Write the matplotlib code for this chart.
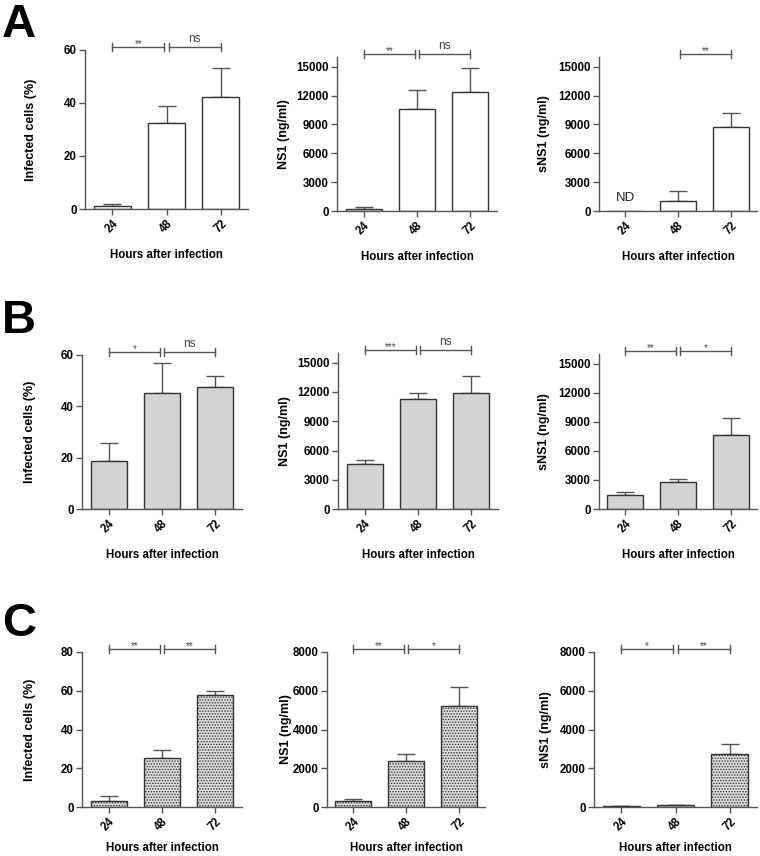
import numpy as np
import matplotlib
matplotlib.use('Agg')
import matplotlib.pyplot as plt

plt.rcParams['font.family'] = ['Liberation Sans', 'DejaVu Sans']
plt.rcParams['font.weight'] = 'bold'
plt.rcParams['hatch.linewidth'] = 0.7

# 数据
hours = ['24', '48', '72']

a_cells = [1.3, 32.5, 42.2]
a_cells_err = [0.7, 6.2, 10.9]
a_ns1 = [240, 10550, 12400]
a_ns1_err = [140, 1970, 2490]
a_sns1 = [0, 1030, 8700]
a_sns1_err = [0, 1030, 1480]

b_cells = [18.7, 45.2, 47.5]
b_cells_err = [7.0, 11.7, 4.4]
b_ns1 = [4650, 11280, 11930]
b_ns1_err = [340, 580, 1700]
b_sns1 = [1400, 2770, 7600]
b_sns1_err = [350, 310, 1820]

c_cells = [3.3, 25.3, 57.8]
c_cells_err = [2.2, 4.1, 2.1]
c_ns1 = [290, 2370, 5200]
c_ns1_err = [120, 370, 990]
c_sns1 = [35, 90, 2720]
c_sns1_err = [35, 30, 550]

a_sig = [['**', 'ns'], ['**', 'ns'], [None, '**']]
b_sig = [['*', 'ns'], ['***', 'ns'], ['**', '*']]
c_sig = [['**', '**'], ['**', '*'], ['*', '**']]

W, H = 760, 856
fig = plt.figure(figsize=(W / 100, H / 100), dpi=100)

DARK = '#333333'
GRAY = '#555555'


def add_ax(left, right, top, bottom):
    return fig.add_axes([left / W, 1 - bottom / H, (right - left) / W, (bottom - top) / H])


def panel(ax, vals, errs, sig, ylabel, ylim, yticks, fill, hatch=None,
          ylab_gap=48, xlab_gap=40, nd=False):
    x = np.arange(len(hours))
    ax.bar(x, vals, width=0.68, color=fill, edgecolor=DARK, linewidth=1.0,
           hatch=hatch, zorder=2)
    errs = np.array(errs, dtype=float)
    m = errs > 0
    ax.errorbar(x[m], np.array(vals)[m], yerr=[np.zeros(m.sum()), errs[m]],
                fmt='none', ecolor=GRAY, elinewidth=1.0, capsize=6.5,
                capthick=1.0, zorder=1)
    ax.set_xlim(-0.5, 2.5)
    ax.set_ylim(*ylim)
    ax.set_yticks(yticks)
    ax.set_xticks(x)
    ax.set_xticklabels(hours, rotation=45, ha='right', rotation_mode='anchor')
    ax.tick_params(labelsize=8.3, length=4, width=1.0, color=GRAY, pad=2)
    for s in ['top', 'right']:
        ax.spines[s].set_visible(False)
    for s in ['left', 'bottom']:
        ax.spines[s].set_color(GRAY)
        ax.spines[s].set_linewidth(1.0)
    ax.set_ylabel(ylabel, fontsize=9, fontweight='bold')
    ax.set_xlabel('Hours after infection', fontsize=8.3, fontweight='bold')
    bb = ax.get_window_extent()
    ax.yaxis.set_label_coords(-ylab_gap / bb.width, 0.5)
    ax.xaxis.set_label_coords(0.5, -xlab_gap / bb.height)

    # 显著性标记
    ytop = ylim[1]
    yb = ytop + (ylim[1] - ylim[0]) * 3 / bb.height
    tick = (ylim[1] - ylim[0]) * 4 / bb.height
    spans = [(0, 0.96), (1.04, 2)]
    for (x0, x1), s in zip(spans, sig):
        if s is None:
            continue
        ax.plot([x0, x1], [yb, yb], color=GRAY, lw=1.0, clip_on=False)
        for xx in (x0, x1):
            ax.plot([xx, xx], [yb - tick, yb + tick], color=GRAY, lw=1.0,
                    clip_on=False)
        if s == 'ns':
            ax.text((x0 + x1) / 2, yb + tick * 0.6, s, ha='center', va='bottom',
                    fontsize=8.5, fontweight='normal', color='#444444')
        else:
            ax.text((x0 + x1) / 2, yb - tick * 0.6, s, ha='center', va='bottom',
                    fontsize=7, fontweight='normal', color='#444444')
    if nd:
        ax.text(0, (ylim[1] - ylim[0]) * 0.085, 'ND', ha='center', va='center',
                fontsize=9.5, fontweight='normal', color='#222222')


cells_ticks = [0, 20, 40, 60]
ns1_ticks = [0, 3000, 6000, 9000, 12000, 15000]

# A
ax = add_ax(85, 248, 50, 209)
panel(ax, a_cells, a_cells_err, a_sig[0], 'Infected cells (%)', (0, 60),
      cells_ticks, 'white', ylab_gap=48)
ax = add_ax(337, 497, 57, 211)
panel(ax, a_ns1, a_ns1_err, a_sig[1], 'NS1 (ng/ml)', (0, 16000),
      ns1_ticks, 'white', ylab_gap=47)
ax = add_ax(599, 757, 57, 211)
panel(ax, a_sns1, a_sns1_err, a_sig[2], 'sNS1 (ng/ml)', (0, 16000),
      ns1_ticks, 'white', ylab_gap=49, nd=True)

# B
ax = add_ax(82, 242, 355, 509)
panel(ax, b_cells, b_cells_err, b_sig[0], 'Infected cells (%)', (0, 60),
      cells_ticks, '#d3d3d3', ylab_gap=46)
ax = add_ax(338, 498, 353, 509)
panel(ax, b_ns1, b_ns1_err, b_sig[1], 'NS1 (ng/ml)', (0, 16000),
      ns1_ticks, '#d3d3d3', ylab_gap=47)
ax = add_ax(599, 757, 354, 509)
panel(ax, b_sns1, b_sns1_err, b_sig[2], 'sNS1 (ng/ml)', (0, 16000),
      ns1_ticks, '#d3d3d3', ylab_gap=49)

# C
ax = add_ax(82, 242, 652, 807)
panel(ax, c_cells, c_cells_err, c_sig[0], 'Infected cells (%)', (0, 80),
      [0, 20, 40, 60, 80], '#dedede', hatch='......', ylab_gap=46, xlab_gap=35)
ax = add_ax(327, 485, 652, 807)
panel(ax, c_ns1, c_ns1_err, c_sig[1], 'NS1 (ng/ml)', (0, 8000),
      [0, 2000, 4000, 6000, 8000], '#dedede', hatch='......', ylab_gap=35,
      xlab_gap=35)
ax = add_ax(594, 757, 652, 807)
panel(ax, c_sns1, c_sns1_err, c_sig[2], 'sNS1 (ng/ml)', (0, 8000),
      [0, 2000, 4000, 6000, 8000], '#dedede', hatch='......', ylab_gap=42,
      xlab_gap=35)

# 面板字母
for lab, top in [('A', 3), ('B', 299), ('C', 602)]:
    fig.text(2 / W, 1 - top / H, lab, fontsize=34, fontweight='bold',
             va='top', ha='left')

fig.savefig('out.png', dpi=100)
